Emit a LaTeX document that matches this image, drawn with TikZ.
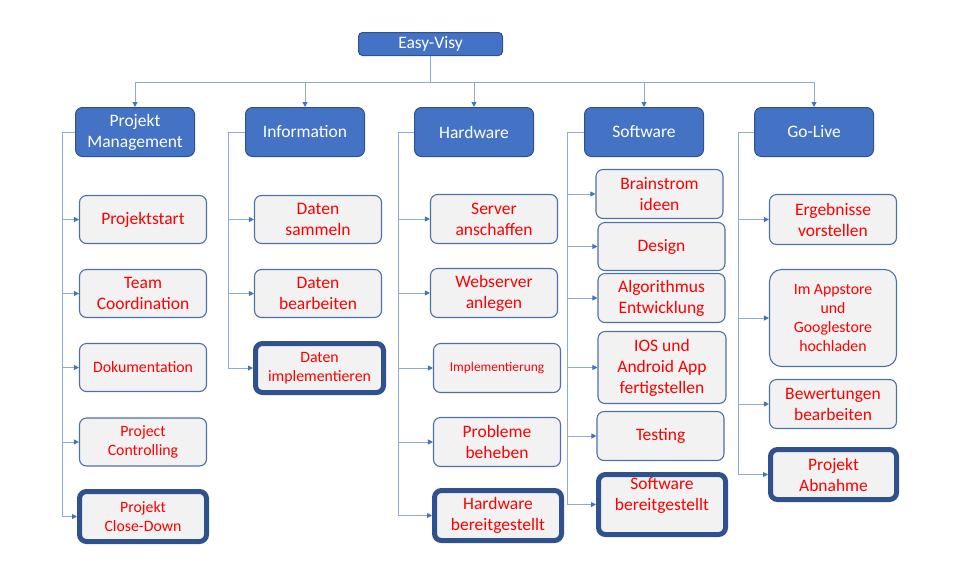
\documentclass[tikz,border=0pt]{standalone}
\usepackage{fontspec}
\setmainfont{Carlito}
\usetikzlibrary{arrows.meta}
\definecolor{topblue}{HTML}{4472C4}
\definecolor{darkblue}{HTML}{2F528F}
\definecolor{lineblue}{HTML}{8EA9DB}
\definecolor{tipblue}{HTML}{4472C4}
\definecolor{boxgray}{HTML}{F2F2F2}
\definecolor{boxline}{HTML}{4F6FA8}
\definecolor{taskred}{HTML}{FF0000}
\newcommand\fA{\fontsize{17.5}{21}\selectfont}
\newcommand\fB{\fontsize{15.8}{19}\selectfont}
\newcommand\fC{\fontsize{13.4}{16}\selectfont}
\tikzset{
  conn/.style={draw=lineblue, line width=1pt},
  arr/.style={conn, -{Triangle[length=5pt,width=5pt,color=tipblue]}},
  topbox/.style={rectangle, rounded corners=7pt, fill=topblue, draw=darkblue, line width=1pt, text=white, font=\fA, align=center, inner sep=0pt},
  taskbox/.style={rectangle, rounded corners=7pt, fill=boxgray, draw=boxline, line width=1.1pt, text=taskred, font=\fA, align=center, inner sep=0pt, minimum width=127pt, minimum height=48pt},
  donebox/.style={taskbox, draw=darkblue, line width=5pt, minimum width=127pt, minimum height=50pt},
  ctext/.style={text=taskred, font=\fA, align=center, inner sep=0pt},
}
\begin{document}
\begin{tikzpicture}[x=1pt,y=-1pt]
\useasboundingbox (0,0) rectangle (979,571);
% root and level 1
\node[topbox, rounded corners=4pt, minimum width=144pt, minimum height=23pt] (root) at (430.5,44) {Easy-Visy};
\node[topbox, minimum width=119pt, minimum height=49pt] (pm) at (135,132) {Projekt\\Management};
\node[topbox, minimum width=119pt, minimum height=49pt] (info) at (305,132) {Information};
\node[topbox, minimum width=119pt, minimum height=49pt] (hw) at (474,132) {Hardware};
\node[topbox, minimum width=119pt, minimum height=49pt] (sw) at (644,132) {Software};
\node[topbox, minimum width=119pt, minimum height=49pt] (gl) at (814,132) {Go-Live};
% Projekt Management children
\node[taskbox] (p1) at (143,219.5) {Projektstart};
\node[taskbox] (p2) at (143,293.5) {Team\\Coordination};
\node[taskbox, font=\fB] (p3) at (143,367.5) {Dokumentation};
\node[taskbox, font=\fB] (p4) at (143,442) {Project\\Controlling};
\node[donebox, font=\fB] (p5) at (143,516.5) {Projekt\\Close-Down};
% Information children
\node[taskbox] (i1) at (318,219.5) {Daten\\sammeln};
\node[taskbox] (i2) at (318,293.5) {Daten\\bearbeiten};
\node[donebox, font=\fB, minimum width=128pt, minimum height=49pt] (i3) at (319.5,368) {Daten\\implementieren};
% Hardware children
\node[taskbox, minimum height=49pt] (h1) at (494,219) {Server\\anschaffen};
\node[taskbox, minimum height=49pt] (h2) at (494,293) {Webserver\\anlegen};
\node[taskbox, font=\fC, minimum height=49pt] (h3) at (497,368) {Implementierung};
\node[taskbox, minimum height=49pt] (h4) at (497,442) {Probleme\\beheben};
\node[donebox] (h5) at (498,515.5) {Hardware\\bereitgestellt};
% Software children
\node[taskbox, minimum height=49pt] (s1) at (659.5,194) {Brainstrom\\ideen};
\node[taskbox] (s2) at (661.5,246.5) {Design};
\node[taskbox, minimum height=49pt] (s3) at (661.5,298) {Algorithmus\\Entwicklung};
\node[taskbox, minimum width=128pt, minimum height=72pt] (s4) at (662,367.5) {IOS und\\Android App\\fertigstellen};
\node[taskbox, minimum height=49pt] (s5) at (660.5,436) {Testing};
\node[donebox, minimum height=60pt] (s6) at (662,504.5) {};
\node[ctext] at ([yshift=9pt]s6.center) {Software\\bereitgestellt};
% Go-Live children
\node[taskbox, minimum width=127pt, minimum height=50pt] (g1) at (833,219.5) {Ergebnisse\\vorstellen};
\node[taskbox, font=\fB, rounded corners=12pt, minimum height=97pt] (g2) at (833,318) {Im Appstore\\und\\Googlestore\\hochladen};
\node[taskbox, minimum height=49pt] (g3) at (833,404) {Bewertungen\\bearbeiten};
\node[donebox, minimum width=126pt] (g4) at (833.5,474.5) {Projekt\\Abnahme};
% bus from root
\coordinate (bus) at (430.5,82);
\draw[conn] (root.south) -- (bus);
\foreach \t in {pm,info,hw,sw,gl} \draw[arr] (bus) -| (\t.north);
% trunks
\coordinate (pmL) at (62,132);
\coordinate (infoL) at (228,132);
\coordinate (hwL) at (398,132);
\coordinate (swL) at (567,132);
\coordinate (glL) at (738,132);
\draw[conn] (pm.west) -- (pmL);
\draw[conn] (info.west) -- (infoL);
\draw[conn] (hw.west) -- (hwL);
\draw[conn] (sw.west) -- (swL);
\draw[conn] (gl.west) -- (glL);
\foreach \c in {p1,p2,p3,p4,p5} \draw[arr] (pmL) |- (\c.west);
\foreach \c in {i1,i2,i3} \draw[arr] (infoL) |- (\c.west);
\foreach \c in {h1,h2,h3,h4,h5} \draw[arr] (hwL) |- (\c.west);
\foreach \c in {s1,s2,s3,s4,s5,s6} \draw[arr] (swL) |- (\c.west);
\foreach \c in {g1,g2,g3,g4} \draw[arr] (glL) |- (\c.west);
\end{tikzpicture}
\end{document}
